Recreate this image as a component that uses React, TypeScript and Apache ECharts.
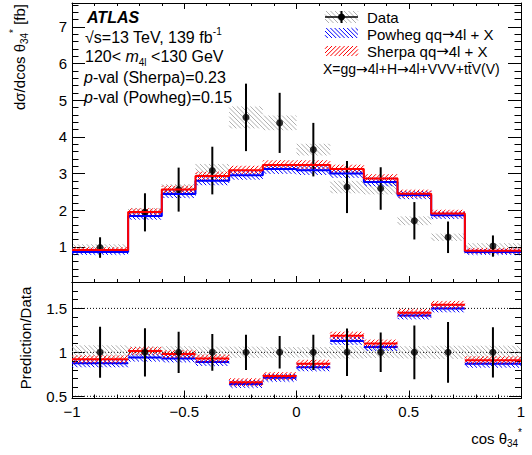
import React, { useEffect, useRef } from "react";
import * as echarts from "echarts";

// ---------------- data ----------------
const binEdges = [-1, -0.75, -0.6, -0.45, -0.3, -0.15, 0, 0.15, 0.3, 0.45, 0.6, 0.75, 1];
const binCenters = [-0.875, -0.675, -0.525, -0.375, -0.225, -0.075, 0.075, 0.225, 0.375, 0.525, 0.675, 0.875];

const dataXsec = [0.98, 1.94, 2.56, 3.08, 4.53, 4.38, 3.65, 2.63, 2.59, 1.71, 1.26, 1.02];
const dataTotErr = [0.28, 0.52, 0.6, 0.65, 0.92, 0.82, 0.73, 0.71, 0.58, 0.51, 0.43, 0.29];
const dataSysErr = [0.09, 0.12, 0.15, 0.18, 0.3, 0.2, 0.16, 0.17, 0.16, 0.12, 0.1, 0.08];

const sherpaXsec = [0.91, 1.95, 2.56, 2.93, 3.09, 3.23, 3.23, 3.12, 2.86, 2.45, 1.91, 0.89];
const sherpaUnc = [0.08, 0.1, 0.11, 0.12, 0.12, 0.13, 0.13, 0.12, 0.12, 0.11, 0.1, 0.08];
const powhegXsec = [0.86, 1.84, 2.44, 2.8, 2.95, 3.12, 3.09, 3.0, 2.77, 2.41, 1.86, 0.86];
const powhegUnc = [0.08, 0.1, 0.11, 0.12, 0.12, 0.13, 0.13, 0.12, 0.12, 0.11, 0.1, 0.08];

const ratioDataErr = [0.29, 0.275, 0.235, 0.21, 0.2, 0.185, 0.2, 0.27, 0.225, 0.305, 0.345, 0.285];
const ratioDataSys = [0.08, 0.07, 0.07, 0.065, 0.065, 0.06, 0.06, 0.07, 0.065, 0.07, 0.075, 0.075];
const sherpaRatio = [0.92, 1.015, 0.98, 0.93, 0.66, 0.73, 0.87, 1.19, 1.1, 1.45, 1.54, 0.91];
const powhegRatio = [0.875, 0.94, 0.93, 0.89, 0.64, 0.71, 0.83, 1.13, 1.06, 1.42, 1.5, 0.87];
const sherpaRatioUnc = [0.045, 0.045, 0.045, 0.045, 0.045, 0.045, 0.045, 0.045, 0.045, 0.045, 0.045, 0.045];
const powhegRatioUnc = [0.045, 0.045, 0.045, 0.045, 0.045, 0.045, 0.045, 0.045, 0.045, 0.045, 0.045, 0.045];

const upperYMajor = [1, 2, 3, 4, 5, 6, 7];
const lowerYMajor = [0.5, 1, 1.5];
const ratioRefLines = [0.5, 1, 1.5];

const FONT = "'Liberation Sans', Arial, Helvetica, sans-serif";
const ARROW_FONT = "'DejaVu Sans', sans-serif";
const GRAY = "#a6a6a6";

function range(a: number, b: number, step: number, skip: number[]) {
  const out: number[] = [];
  for (let v = a; v <= b + 1e-9; v += step) {
    const r = Math.round(v * 1000) / 1000;
    if (!skip.some((s) => Math.abs(s - r) < 1e-6)) out.push(r);
  }
  return out;
}
const upperYMinor = range(0.2, 7.6, 0.2, upperYMajor);
const lowerYMinor = range(0.5, 1.8, 0.1, lowerYMajor);

type Seg = { x1: number; y1: number; x2: number; y2: number };
function hatch(l: number, t: number, r: number, b: number, s: number, dir: number): Seg[] {
  const segs: Seg[] = [];
  if (dir > 0) {
    const cMin = Math.ceil((l - b) / s) * s;
    for (let c = cMin; c <= r - t; c += s) {
      const y1 = Math.max(t, l - c), y2 = Math.min(b, r - c);
      if (y2 > y1) segs.push({ x1: y1 + c, y1, x2: y2 + c, y2 });
    }
  } else {
    const cMin = Math.ceil((l + t) / s) * s;
    for (let c = cMin; c <= r + b; c += s) {
      const y1 = Math.max(t, c - r), y2 = Math.min(b, c - l);
      if (y2 > y1) segs.push({ x1: c - y1, y1, x2: c - y2, y2 });
    }
  }
  return segs;
}

function bandRender(color: string, dir: number, spacing: number, lw: number, lineColor?: string, lineWidth?: number) {
  return (params: any, api: any) => {
    const x0 = api.value(0), x1 = api.value(1), y0 = api.value(2), y1 = api.value(3);
    const a = api.coord([x0, y1]);
    const bb = api.coord([x1, y0]);
    const cs = params.coordSys;
    const l = Math.max(a[0], cs.x), r = Math.min(bb[0], cs.x + cs.width);
    const t = Math.max(a[1], cs.y), b = Math.min(bb[1], cs.y + cs.height);
    const children: any[] = [];
    if (r > l && b > t) {
      hatch(l, t, r, b, spacing, dir).forEach((s) =>
        children.push({ type: "line", shape: s, style: { stroke: color, lineWidth: lw } })
      );
    }
    if (lineColor) {
      const yc = api.value(4);
      const p = api.coord([x0, yc]);
      const q = api.coord([x1, yc]);
      children.push({
        type: "line",
        shape: { x1: p[0], y1: p[1], x2: q[0], y2: q[1] },
        style: { stroke: lineColor, lineWidth: lineWidth || 2 },
      });
    }
    return { type: "group", children };
  };
}

function errRender(params: any, api: any) {
  const x = api.value(0), lo = api.value(1), hi = api.value(2);
  const p = api.coord([x, lo]);
  const q = api.coord([x, hi]);
  return {
    type: "line",
    shape: { x1: p[0], y1: p[1], x2: q[0], y2: q[1] },
    style: { stroke: "#000", lineWidth: 2 },
  };
}

function refLineRender(params: any, api: any) {
  const v = api.value(1);
  const p = api.coord([-1, v]);
  const q = api.coord([1, v]);
  return {
    type: "line",
    shape: { x1: p[0], y1: p[1], x2: q[0], y2: q[1] },
    style: { stroke: "#000", lineWidth: 1, lineDash: [1, 2] },
  };
}

function stepData(vals: number[]) {
  const d: number[][] = vals.map((v, i) => [binEdges[i], v]);
  d.push([binEdges[binEdges.length - 1], vals[vals.length - 1]]);
  return d;
}

const minusFmt = (v: number) => (v < 0 ? "\u2212" + String(Math.abs(v)) : String(v));

function xAxisCfg(grid: number, pos: string, labels: boolean, major: number, minor: number, ticks = true) {
  return {
    type: "value",
    gridIndex: grid,
    position: pos,
    min: -1,
    max: 1,
    interval: 0.5,
    axisLine: { show: true, onZero: false, lineStyle: { color: "#000", width: 1 } },
    axisTick: { show: ticks, inside: true, length: major, lineStyle: { color: "#000", width: 1 } },
    minorTick: { show: ticks, splitNumber: 5, length: minor, lineStyle: { color: "#000", width: 1 } },
    splitLine: { show: false },
    minorSplitLine: { show: false },
    axisLabel: labels
      ? { show: true, formatter: minusFmt, fontSize: 15, color: "#000", fontFamily: FONT, margin: 5 }
      : { show: false },
  };
}

function yAxisCfg(grid: number, pos: string, min: number, max: number, ticks: number[], len: number, labels: boolean, line: boolean) {
  return {
    type: "value",
    gridIndex: grid,
    position: pos,
    min,
    max,
    axisLine: { show: line, onZero: false, lineStyle: { color: "#000", width: 1 } },
    axisTick: { show: true, inside: true, length: len, customValues: ticks, lineStyle: { color: "#000", width: 1 } },
    splitLine: { show: false },
    axisLabel: labels
      ? { show: true, customValues: ticks, fontSize: 15, color: "#000", fontFamily: FONT, margin: 5 }
      : { show: false },
  };
}

const richStyles = (size: number) => ({
  sup: { fontSize: Math.round(size * 0.65), fontFamily: FONT, verticalAlign: "top", lineHeight: Math.round(size * 0.7), fill: "#000" },
  sub: { fontSize: Math.round(size * 0.65), fontFamily: FONT, verticalAlign: "bottom", lineHeight: Math.round(size * 0.7), fill: "#000" },
  it: { fontSize: size, fontFamily: FONT, fontStyle: "italic", lineHeight: size + 6, fill: "#000" },
  ar: { fontSize: size, fontFamily: ARROW_FONT, lineHeight: size + 6, fill: "#000" },
});

function txt(x: number, y: number, text: string, size: number, opts: any = {}) {
  return {
    type: "text",
    x,
    y,
    rotation: opts.rotation || 0,
    silent: true,
    style: {
      text,
      fontSize: size,
      fontFamily: FONT,
      fontWeight: opts.bold ? "bold" : "normal",
      fontStyle: opts.italic ? "italic" : "normal",
      fill: "#000",
      align: opts.align || "left",
      verticalAlign: "middle",
      lineHeight: size + 6,
      rich: richStyles(size),
    },
  };
}

function hatchBox(l: number, t: number, r: number, b: number, s: number, dir: number, color: string, lw: number) {
  return {
    type: "group",
    silent: true,
    children: hatch(l, t, r, b, s, dir).map((sg) => ({ type: "line", shape: sg, style: { stroke: color, lineWidth: lw } })),
  };
}

export default function App() {
  const ref = useRef<HTMLDivElement>(null);
  useEffect(() => {
    if (!ref.current) return;
    const chart = echarts.init(ref.current, undefined, { renderer: "svg" });
    const n = dataXsec.length;
    const idx = Array.from({ length: n }, (_, i) => i);

    const option: any = {
      animation: false,
      backgroundColor: "#fff",
      grid: [
        { left: 72, width: 449, top: 3, height: 279 },
        { left: 72, width: 449, top: 282, height: 116.5 },
      ],
      xAxis: [
        xAxisCfg(0, "bottom", false, 6, 3),
        xAxisCfg(0, "top", false, 6, 3),
        xAxisCfg(1, "bottom", true, 8, 4),
        xAxisCfg(1, "top", false, 0, 0, false),
      ],
      yAxis: [
        yAxisCfg(0, "left", 0.04, 7.65, upperYMajor, 13, true, true),
        yAxisCfg(0, "left", 0.04, 7.65, upperYMinor, 6.5, false, false),
        yAxisCfg(0, "right", 0.04, 7.65, upperYMajor, 13, false, true),
        yAxisCfg(0, "right", 0.04, 7.65, upperYMinor, 6.5, false, false),
        yAxisCfg(1, "left", 0.475, 1.8, lowerYMajor, 12, true, true),
        yAxisCfg(1, "left", 0.475, 1.8, lowerYMinor, 6, false, false),
        yAxisCfg(1, "right", 0.475, 1.8, lowerYMajor, 12, false, true),
        yAxisCfg(1, "right", 0.475, 1.8, lowerYMinor, 6, false, false),
      ],
      series: [
        // ---------- upper panel ----------
        {
          type: "custom", xAxisIndex: 0, yAxisIndex: 0, silent: true, clip: true,
          renderItem: bandRender(GRAY, 1, 4.5, 0.9),
          data: idx.map((i) => [binEdges[i], binEdges[i + 1], dataXsec[i] - dataSysErr[i], dataXsec[i] + dataSysErr[i]]),
        },
        {
          type: "custom", xAxisIndex: 0, yAxisIndex: 0, silent: true, clip: true,
          renderItem: bandRender("#0000ff", 1, 4.2, 1),
          data: idx.map((i) => [binEdges[i], binEdges[i + 1], powhegXsec[i] - powhegUnc[i], powhegXsec[i] + powhegUnc[i]]),
        },
        {
          type: "custom", xAxisIndex: 0, yAxisIndex: 0, silent: true, clip: true,
          renderItem: bandRender("#ff0000", -1, 4.2, 1),
          data: idx.map((i) => [binEdges[i], binEdges[i + 1], sherpaXsec[i] - sherpaUnc[i], sherpaXsec[i] + sherpaUnc[i]]),
        },
        {
          type: "line", xAxisIndex: 0, yAxisIndex: 0, step: "end", symbol: "none", silent: true,
          lineStyle: { color: "#0000ff", width: 2 },
          data: stepData(powhegXsec),
        },
        {
          type: "line", xAxisIndex: 0, yAxisIndex: 0, step: "end", symbol: "none", silent: true,
          lineStyle: { color: "#ff0000", width: 2 },
          data: stepData(sherpaXsec),
        },
        {
          type: "custom", xAxisIndex: 0, yAxisIndex: 0, silent: true, clip: true,
          renderItem: errRender,
          data: idx.map((i) => [binCenters[i], dataXsec[i] - dataTotErr[i], dataXsec[i] + dataTotErr[i]]),
        },
        {
          type: "scatter", xAxisIndex: 0, yAxisIndex: 0, silent: true, symbol: "circle", symbolSize: 7,
          itemStyle: { color: "#000" },
          data: idx.map((i) => [binCenters[i], dataXsec[i]]),
        },
        // ---------- ratio panel ----------
        {
          type: "custom", xAxisIndex: 2, yAxisIndex: 4, silent: true, clip: true,
          renderItem: refLineRender,
          data: ratioRefLines.map((v) => [-1, v]),
        },
        {
          type: "custom", xAxisIndex: 2, yAxisIndex: 4, silent: true, clip: true,
          renderItem: bandRender(GRAY, 1, 4.5, 0.9),
          data: idx.map((i) => [binEdges[i], binEdges[i + 1], 1 - ratioDataSys[i], 1 + ratioDataSys[i]]),
        },
        {
          type: "custom", xAxisIndex: 2, yAxisIndex: 4, silent: true, clip: true,
          renderItem: bandRender("#0000ff", 1, 4.2, 1, "#0000ff", 2),
          data: idx.map((i) => [binEdges[i], binEdges[i + 1], powhegRatio[i] - powhegRatioUnc[i], powhegRatio[i] + powhegRatioUnc[i], powhegRatio[i]]),
        },
        {
          type: "custom", xAxisIndex: 2, yAxisIndex: 4, silent: true, clip: true,
          renderItem: bandRender("#ff0000", -1, 4.2, 1, "#ff0000", 2),
          data: idx.map((i) => [binEdges[i], binEdges[i + 1], sherpaRatio[i] - sherpaRatioUnc[i], sherpaRatio[i] + sherpaRatioUnc[i], sherpaRatio[i]]),
        },
        {
          type: "custom", xAxisIndex: 2, yAxisIndex: 4, silent: true, clip: true,
          renderItem: errRender,
          data: idx.map((i) => [binCenters[i], 1 - ratioDataErr[i], 1 + ratioDataErr[i]]),
        },
        {
          type: "scatter", xAxisIndex: 2, yAxisIndex: 4, silent: true, symbol: "circle", symbolSize: 7,
          itemStyle: { color: "#000" },
          data: idx.map((i) => [binCenters[i], 1]),
        },
      ],
      graphic: [
        // annotations
        txt(87, 17, "ATLAS", 16, { bold: true, italic: true }),
        txt(85, 37, "\u221As=13 TeV, 139 fb{sup|-1}", 16),
        txt(85, 56, "120< {it|m}{sub|4l} <130 GeV", 16),
        txt(84, 77, "{it|p}-val (Sherpa)=0.23", 16),
        txt(84, 97, "{it|p}-val (Powheg)=0.15", 16),
        // axis titles
        txt(19, 4, "d\u03C3/dcos \u03B8{sub|34}{sup|*} [fb]", 15, { rotation: Math.PI / 2, align: "right" }),
        txt(25, 338, "Prediction/Data", 15, { rotation: Math.PI / 2, align: "center" }),
        txt(522, 438, "cos \u03B8{sub|34}{sup|*}", 15, { align: "right" }),
        // legend: Data
        hatchBox(325, 11, 358, 23, 4.5, 1, GRAY, 0.9),
        { type: "line", silent: true, shape: { x1: 325, y1: 17, x2: 358, y2: 17 }, style: { stroke: "#000", lineWidth: 1.5 } },
        { type: "line", silent: true, shape: { x1: 341.5, y1: 11, x2: 341.5, y2: 23 }, style: { stroke: "#000", lineWidth: 2 } },
        { type: "circle", silent: true, shape: { cx: 341.5, cy: 17, r: 3.5 }, style: { fill: "#000" } },
        txt(367, 17, "Data", 15),
        // legend: Powheg
        hatchBox(325, 28, 358, 38, 4.2, 1, "#0000ff", 1),
        txt(367, 34, "Powheg qq{ar|\u2192}4l + X", 15),
        // legend: Sherpa
        hatchBox(325, 46, 358, 56, 4.2, -1, "#ff0000", 1),
        txt(367, 51, "Sherpa qq{ar|\u2192}4l + X", 15),
        txt(323, 69, "X=gg{ar|\u2192}4l+H{ar|\u2192}4l+VVV+tt\u0304V(V)", 14),
      ],
    };
    chart.setOption(option);
    return () => chart.dispose();
  }, []);
  return (
    <div
      ref={ref}
      style={{ position: "absolute", left: 0, top: 0, width: 532, height: 455, background: "#fff" }}
    />
  );
}
